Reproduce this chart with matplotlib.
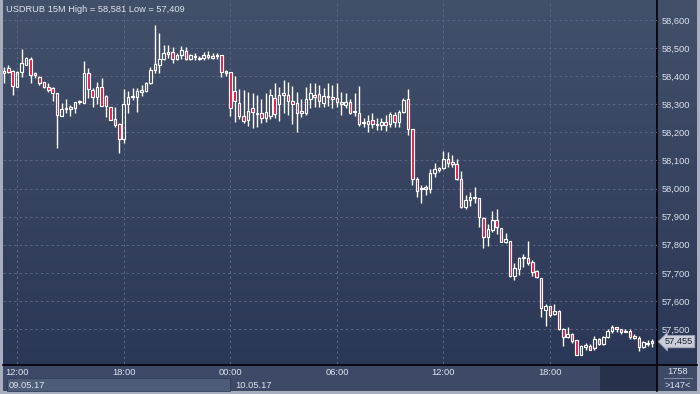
import numpy as np
import pandas as pd
import matplotlib
matplotlib.use('Agg')
import matplotlib.pyplot as plt
import matplotlib.transforms as mtransforms
from matplotlib.patches import Rectangle

plt.rcParams['font.family'] = ['Liberation Sans', 'DejaVu Sans']

# 15 minute candles, USDRUB
simbolo = 'USDRUB 15M'
inicio = '2017-05-09 11:15'

aperturas = [58412, 58428, 58418, 58363, 58414, 58440, 58460, 58410, 58396, 58380,
             58360, 58357, 58339, 58260, 58282, 58283, 58288, 58307, 58303, 58410,
             58351, 58325, 58363, 58329, 58289, 58248, 58230, 58175, 58301, 58325,
             58327, 58344, 58347, 58374, 58422, 58440, 58461, 58478, 58487, 58460,
             58475, 58490, 58460, 58473, 58461, 58464, 58469, 58472, 58472, 58475,
             58413, 58414, 58347, 58306, 58259, 58244, 58285, 58264, 58268, 58250,
             58258, 58321, 58300, 58339, 58333, 58312, 58303, 58268, 58270, 58318,
             58333, 58335, 58306, 58325, 58325, 58321, 58302, 58297, 58309, 58272,
             58268, 58232, 58228, 58244, 58230, 58226, 58236, 58228, 58262, 58238,
             58271, 58318, 58211, 58033, 57997, 57999, 57997, 58054, 58066, 58072,
             58105, 58092, 58087, 58033, 57935, 57961, 57969, 57965, 57894, 57828,
             57852, 57888, 57858, 57811, 57814, 57688, 57712, 57753, 57751, 57737,
             57706, 57680, 57568, 57582, 57552, 57564, 57500, 57473, 57481, 57461,
             57409, 57437, 57439, 57431, 57463, 57445, 57470, 57494, 57506, 57499,
             57489, 57494, 57473, 57469, 57435, 57446, 57451]
maximos = [58434, 58440, 58422, 58419, 58497, 58470, 58470, 58414, 58401, 58381,
           58375, 58363, 58339, 58304, 58318, 58297, 58309, 58315, 58455, 58428,
           58357, 58378, 58392, 58333, 58292, 58289, 58232, 58353, 58349, 58357,
           58357, 58369, 58380, 58434, 58581, 58553, 58511, 58511, 58505, 58484,
           58507, 58505, 58478, 58484, 58472, 58487, 58490, 58484, 58484, 58475,
           58422, 58414, 58401, 58354, 58351, 58345, 58341, 58333, 58320, 58339,
           58353, 58377, 58363, 58386, 58380, 58365, 58345, 58318, 58360, 58377,
           58374, 58369, 58357, 58374, 58369, 58374, 58345, 58339, 58318, 58339,
           58365, 58252, 58262, 58268, 58250, 58250, 58262, 58274, 58274, 58280,
           58321, 58353, 58211, 58042, 58012, 58012, 58068, 58090, 58078, 58135,
           58131, 58119, 58105, 58064, 57977, 57989, 58006, 57965, 57900, 57874,
           57920, 57927, 57858, 57840, 57814, 57736, 57757, 57767, 57813, 57745,
           57710, 57680, 57589, 57582, 57589, 57568, 57505, 57506, 57484, 57461,
           57443, 57449, 57445, 57476, 57469, 57475, 57499, 57516, 57508, 57501,
           57501, 57499, 57481, 57475, 57458, 57461, 57465]
minimos = [58377, 58413, 58333, 58363, 58396, 58440, 58377, 58395, 58369, 58359,
           58345, 58312, 58143, 58260, 58268, 58258, 58268, 58301, 58303, 58321,
           58292, 58301, 58294, 58256, 58244, 58220, 58125, 58161, 58270, 58315,
           58271, 58329, 58345, 58371, 58410, 58410, 58458, 58463, 58448, 58458,
           58460, 58458, 58458, 58458, 58458, 58458, 58460, 58460, 58460, 58396,
           58401, 58258, 58238, 58246, 58232, 58223, 58214, 58220, 58235, 58238,
           58246, 58250, 58242, 58268, 58262, 58230, 58202, 58256, 58262, 58286,
           58289, 58291, 58289, 58294, 58285, 58289, 58262, 58286, 58265, 58258,
           58224, 58220, 58202, 58214, 58208, 58208, 58206, 58218, 58220, 58220,
           58268, 58191, 58012, 57971, 57950, 57977, 57985, 58042, 58058, 58068,
           58075, 58075, 58030, 57929, 57926, 57938, 57950, 57864, 57787, 57796,
           57846, 57838, 57808, 57805, 57686, 57674, 57692, 57719, 57728, 57688,
           57680, 57544, 57512, 57544, 57550, 57496, 57441, 57467, 57449, 57409,
           57409, 57427, 57425, 57427, 57442, 57443, 57467, 57487, 57490, 57481,
           57489, 57463, 57464, 57423, 57431, 57440, 57437]
cierres = [58418, 58416, 58365, 58416, 58446, 58464, 58404, 58405, 58375, 58363,
           58351, 58339, 58262, 58283, 58285, 58291, 58307, 58310, 58410, 58353,
           58325, 58360, 58294, 58294, 58244, 58225, 58178, 58301, 58325, 58329,
           58347, 58350, 58374, 58422, 58442, 58460, 58481, 58487, 58460, 58475,
           58493, 58461, 58474, 58467, 58466, 58474, 58477, 58465, 58477, 58416,
           58416, 58285, 58312, 58259, 58240, 58276, 58271, 58270, 58250, 58274,
           58333, 58265, 58333, 58332, 58313, 58300, 58268, 58276, 58318, 58339,
           58325, 58313, 58329, 58329, 58318, 58309, 58306, 58309, 58268, 58276,
           58228, 58236, 58242, 58228, 58225, 58236, 58225, 58265, 58236, 58274,
           58315, 58211, 58033, 57992, 58000, 58001, 58054, 58068, 58074, 58105,
           58092, 58088, 58033, 57935, 57959, 57971, 57965, 57897, 57828, 57855,
           57888, 57862, 57811, 57819, 57688, 57716, 57751, 57755, 57736, 57704,
           57686, 57573, 57583, 57550, 57564, 57500, 57473, 57481, 57457, 57409,
           57439, 57443, 57427, 57464, 57445, 57473, 57493, 57506, 57499, 57489,
           57494, 57470, 57469, 57435, 57452, 57451, 57455]
total_barras = 1758

W, H = 700, 394
fondo_arriba = np.array([67, 80, 106]) / 255
fondo_abajo = np.array([43, 55, 86]) / 255
rojo = '#e3123f'
texto = '#dde3ee'
letra = 6.7


def caja(x0, y0, x1, y1):
    return [x0 / W, 1 - y1 / H, (x1 - x0) / W, (y1 - y0) / H]


o = np.array(aperturas, dtype=float)
h = np.array(maximos, dtype=float)
l = np.array(minimos, dtype=float)
c = np.array(cierres, dtype=float)
idx = np.arange(len(c))
horas = pd.date_range(inicio, periods=len(c), freq='15min')

fig = plt.figure(figsize=(W / 100, H / 100), dpi=100)
fig.patch.set_facecolor('#a7afbf')

# fondo con degradado y franja inferior
bg = fig.add_axes([0, 0, 1, 1])
bg.set_xlim(0, W)
bg.set_ylim(H, 0)
bg.axis('off')
t = np.linspace(0, 1, 256)[:, None, None]
bg.imshow(fondo_arriba + (fondo_abajo - fondo_arriba) * t, extent=(3, 697, 364, 0),
          aspect='auto', interpolation='bilinear')
bg.add_patch(Rectangle((3, 364), 694, 27, fc='#3d4966', ec='none'))
bg.add_patch(Rectangle((600, 366), 56, 25, fc='#27314c', ec='none'))
bg.plot([3, 697], [364.5, 364.5], color='black', lw=1.2)
bg.plot([657, 657], [0, 391], color='black', lw=1.2)
bg.text(678, 371.5, str(total_barras), ha='center', va='center', fontsize=letra, color=texto)
bg.plot([664, 692], [378, 378], color='#8d97aa', lw=0.6)
bg.text(678, 385, f'>{len(c)}<', ha='center', va='center', fontsize=letra, color=texto)
bg.set_ylim(H, 0)

ax = fig.add_axes(caja(3, 0, 657, 364))
ax.set_facecolor('none')
ax.set_zorder(1)
for s in ax.spines.values():
    s.set_visible(False)
ax.set_xlim(-0.2, 147.1)
ax.set_ylim(57375.4, 58671.2)

# mechas (sin atravesar el cuerpo)
cuerpo_sup = np.maximum(o, c)
cuerpo_inf = np.minimum(o, c)
ax.vlines(idx, cuerpo_sup, h, colors='white', lw=1.0, zorder=3)
ax.vlines(idx, l, cuerpo_inf, colors='white', lw=1.0, zorder=3)

sube = c >= o
alto = np.maximum(cuerpo_sup - cuerpo_inf, 5)
colores = ['none' if s else rojo for s in sube]
ax.bar(idx, alto, bottom=cuerpo_inf, width=0.58, color=colores,
       edgecolor='white', linewidth=0.85, zorder=4)

# ejes
niveles = np.arange(57500, 58601, 100)
ax.yaxis.tick_right()
ax.set_yticks(niveles)
ax.set_yticklabels([f'{v:,}' for v in niveles])
marcas = [i for i, t_ in enumerate(horas) if t_.minute == 0 and t_.hour % 6 == 0]
ax.set_xticks(marcas)
ax.set_xticklabels([horas[i].strftime('%H:%M') for i in marcas])
ax.tick_params(length=0, labelsize=letra, labelcolor=texto)
ax.tick_params(axis='y', pad=3)
ax.tick_params(axis='x', pad=3)
ax.grid(True, color='#5a6885', lw=0.7, linestyle=(0, (2.5, 3)))
ax.set_axisbelow(True)

ax.text(0.004, 0.975, f'{simbolo} High = {h.max():,.0f} Low = {l.min():,.0f}',
        transform=ax.transAxes, ha='left', va='center', fontsize=letra, color=texto)

# fechas
mezcla = mtransforms.blended_transform_factory(ax.transData, ax.transAxes)
nuevo_dia = [0] + [i for i in range(1, len(c)) if horas[i].day != horas[i - 1].day]
ax.add_patch(Rectangle((0.8, -0.0742), nuevo_dia[1] - 0.8, 0.0357, transform=mezcla,
                       fc='#4f5c78', ec='#34405a', lw=0.6, clip_on=False))
for i in nuevo_dia:
    ax.text(i + 1.0, -0.058, horas[i].strftime('%d.%m.%y'), transform=mezcla,
            ha='left', va='center', fontsize=letra, color=texto, clip_on=False)

# etiqueta del ultimo precio
ultimo = mtransforms.blended_transform_factory(ax.transAxes, ax.transData)
ax.text(1.012, c[-1], f'{c[-1]:,.0f}', transform=ultimo, ha='left', va='center',
        fontsize=letra, color='#1b2233', clip_on=False, zorder=6,
        bbox=dict(boxstyle='larrow,pad=0.18', fc='#c9ced8', ec='#9ba3b3', lw=0.6))

fig.savefig('out.png', dpi=100, facecolor=fig.get_facecolor())
